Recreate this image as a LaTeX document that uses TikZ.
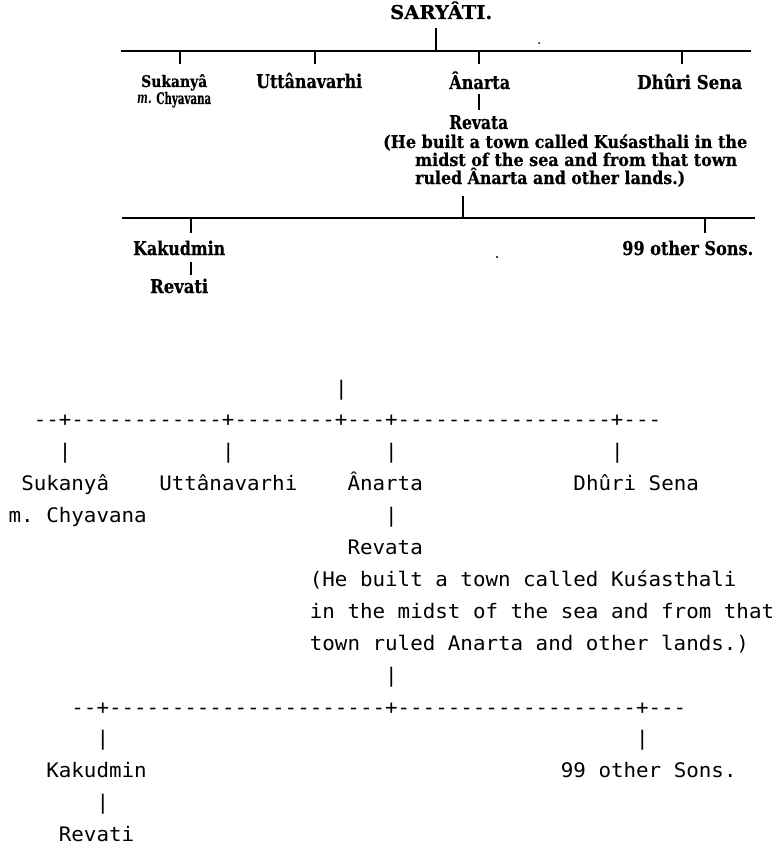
\documentclass[tikz,border=0pt]{standalone}
\usepackage{fontspec}
\usepackage{graphicx}
\setmonofont{DejaVu Sans Mono}[FakeStretch=1.042]
\newfontfamily\scanfont{DejaVu Serif}[BoldFeatures={FakeBold=0.5}]
\newcommand{\fitw}[2]{\resizebox{#1}{\height}{#2}}
\begin{document}
\begin{tikzpicture}[x=1pt,y=-1pt,
  scanlbl/.style={font=\scanfont\bfseries\fontsize{19}{22}\selectfont, inner sep=0pt, anchor=base west},
  scansmall/.style={font=\scanfont\bfseries\fontsize{16}{18}\selectfont, inner sep=0pt, anchor=base west},
  scannote/.style={font=\scanfont\bfseries\fontsize{17.5}{20}\selectfont, inner sep=0pt, anchor=base west},
  scanline/.style={line width=2.2pt, line cap=butt},
  dropline/.style={line width=1.6pt, line cap=butt},
  asc/.style={font=\ttfamily\fontsize{20}{24}\selectfont, inner sep=0pt, anchor=base west}]
\useasboundingbox (0,0) rectangle (780,845);
\fill[white] (0,0) rectangle (780,845);

% ---------------- scanned tree ----------------
\node[scanlbl] (sar) at (390,19) {\fitw{102pt}{SARYÂTI.}};
\node[scansmall] (suk) at (141,87) {\fitw{66pt}{Sukanyâ}};
\node[scansmall] (chy) at (137,104) {\fitw{74pt}{\textit{m.} Chyavana}};
\node[scanlbl] (utt) at (256,88) {\fitw{106pt}{Uttânavarhi}};
\node[scanlbl] (ana) at (449,89) {\fitw{61pt}{Ânarta}};
\node[scanlbl] (dhu) at (637,89) {\fitw{105pt}{Dhûri Sena}};
\node[scanlbl] (rev) at (449,129) {\fitw{59pt}{Revata}};
\node[scannote] (n1) at (383,148) {\fitw{364pt}{(He built a town called Kuśasthali in the}};
\node[scannote] (n2) at (415,166) {\fitw{322pt}{midst of the sea and from that town}};
\node[scannote] (n3) at (415,184) {\fitw{270pt}{ruled Ânarta and other lands.)}};
\node[scanlbl] (kak) at (133,255) {\fitw{92pt}{Kakudmin}};
\node[scanlbl] (oth) at (622,255) {\fitw{131pt}{99 other Sons.}};
\node[scanlbl] (rvt) at (150,293) {\fitw{58pt}{Revati}};

\coordinate (sarbot) at (436,28);
\coordinate (barL) at (121,51);
\coordinate (barR) at (751,51);
\draw[dropline] (sarbot) -- (sarbot |- barL);
\draw[scanline] (barL) -- (barR);
\coordinate (dsuk) at (180,51);
\coordinate (dutt) at (315,51);
\coordinate (dana) at (479,51);
\coordinate (ddhu) at (682,51);
\foreach \d in {dsuk,dutt,dana,ddhu} \draw[dropline] (\d) -- ++(0,13);
\coordinate (anabot) at (479,94);
\coordinate (revtop) at (479,110);
\draw[dropline] (anabot) -- (revtop);
\coordinate (notebot) at (463,196);
\coordinate (bar2L) at (122,218);
\coordinate (bar2R) at (755,218);
\draw[dropline] (notebot) -- (notebot |- bar2L);
\draw[scanline] (bar2L) -- (bar2R);
\coordinate (dkak) at (191,218);
\coordinate (doth) at (705,218);
\foreach \d in {dkak,doth} \draw[dropline] (\d) -- ++(0,15);
\coordinate (kakbot) at (191,262);
\coordinate (rvttop) at (191,275);
\draw[dropline] (kakbot) -- (rvttop);
\fill (539,43) circle (1pt);
\fill (497,257) circle (1.2pt);

% ---------------- ASCII transcription ----------------
% column x = 8.5 + 12.55*col ; baseline y = 395 + 31.9*(row-1)
\node[asc] (a1) at ({8.5+12.55*26},395) {|};
\node[asc] (a2) at ({8.5+12.55*2},{395+31.9*1}) {--+------------+--------+---+-----------------+---};
\node[asc] (a3a) at ({8.5+12.55*4},{395+31.9*2}) {|};
\node[asc] (a3b) at ({8.5+12.55*17},{395+31.9*2}) {|};
\node[asc] (a3c) at ({8.5+12.55*30},{395+31.9*2}) {|};
\node[asc] (a3d) at ({8.5+12.55*48},{395+31.9*2}) {|};
\node[asc] (a4a) at ({8.5+12.55*1},{395+31.9*3}) {Sukanyâ};
\node[asc] (a4b) at ({8.5+12.55*12},{395+31.9*3}) {Uttânavarhi};
\node[asc] (a4c) at ({8.5+12.55*27},{395+31.9*3}) {Ânarta};
\node[asc] (a4d) at ({8.5+12.55*45},{395+31.9*3}) {Dhûri Sena};
\node[asc] (a5a) at (8.5,{395+31.9*4}) {m. Chyavana};
\node[asc] (a5b) at ({8.5+12.55*30},{395+31.9*4}) {|};
\node[asc] (a6) at ({8.5+12.55*27},{395+31.9*5}) {Revata};
\node[asc] (a7) at ({8.5+12.55*24},{395+31.9*6}) {(He built a town called Kuśasthali};
\node[asc] (a8) at ({8.5+12.55*24},{395+31.9*7}) {in the midst of the sea and from that};
\node[asc] (a9) at ({8.5+12.55*24},{395+31.9*8}) {town ruled Anarta and other lands.)};
\node[asc] (a10) at ({8.5+12.55*30},{395+31.9*9}) {|};
\node[asc] (a11) at ({8.5+12.55*5},{395+31.9*10}) {--+----------------------+-------------------+---};
\node[asc] (a12a) at ({8.5+12.55*7},{395+31.9*11}) {|};
\node[asc] (a12b) at ({8.5+12.55*50},{395+31.9*11}) {|};
\node[asc] (a13a) at ({8.5+12.55*3},{395+31.9*12}) {Kakudmin};
\node[asc] (a13b) at ({8.5+12.55*44},{395+31.9*12}) {99 other Sons.};
\node[asc] (a14) at ({8.5+12.55*7},{395+31.9*13}) {|};
\node[asc] (a15) at ({8.5+12.55*4},{395+31.9*14}) {Revati};
\end{tikzpicture}
\end{document}
